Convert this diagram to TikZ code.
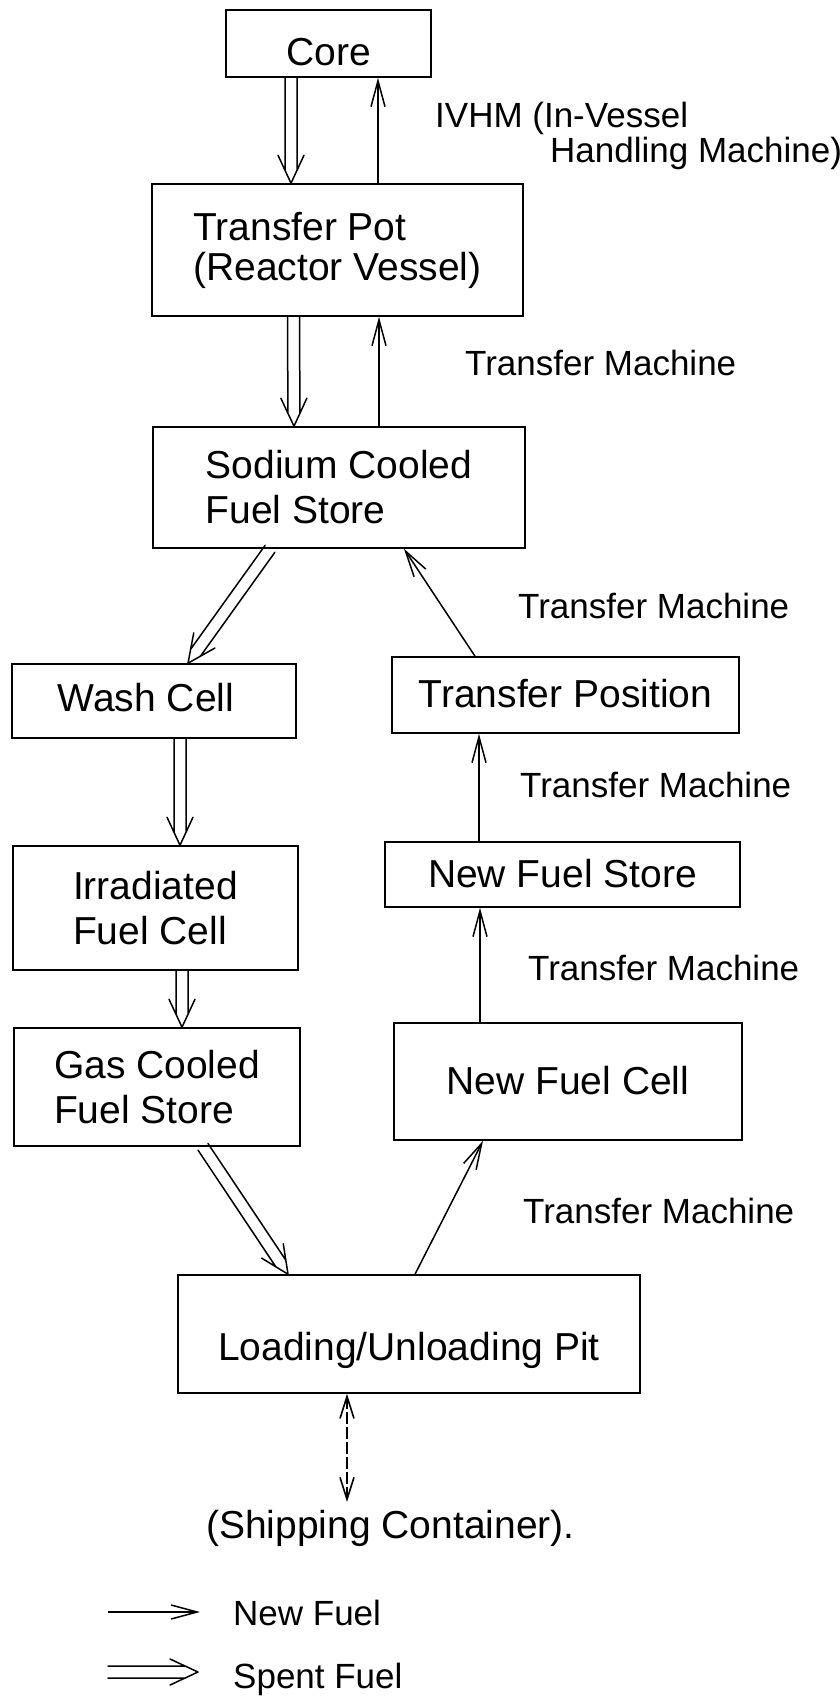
\documentclass[tikz,border=0pt]{standalone}
\usepackage{fontspec}
\setmainfont{Liberation Sans}
\usetikzlibrary{calc,arrows.meta}
\begin{document}
\begin{tikzpicture}[x=1pt,y=-1pt,
  box/.style={draw, line width=1.6pt, inner sep=0pt, align=left,
    font=\fontsize{39}{45}\selectfont},
  lab/.style={inner sep=0pt, anchor=base west, font=\fontsize{35}{40}\selectfont},
  newf/.style={line width=1.5pt, -{Straight Barb[length=26pt,width=14pt]}},
  dashboth/.style={line width=1.6pt, dash pattern=on 12pt off 3pt,
    {Straight Barb[length=22pt,width=14pt]}-{Straight Barb[length=22pt,width=14pt]}},
  spent/.style={line width=1.5pt, line join=round, line cap=round, to path={
    ($(\tikztostart)!6pt!90:(\tikztotarget)$) -- ($($(\tikztotarget)!13pt!(\tikztostart)$)!6pt!-90:(\tikztostart)$)
    ($(\tikztostart)!6pt!-90:(\tikztotarget)$) -- ($($(\tikztotarget)!13pt!(\tikztostart)$)!6pt!90:(\tikztostart)$)
    ($($(\tikztotarget)!28pt!(\tikztostart)$)!13pt!-90:(\tikztostart)$) -- (\tikztotarget)
      -- ($($(\tikztotarget)!28pt!(\tikztostart)$)!13pt!90:(\tikztostart)$)
  }},
]
\fill[white] (0,0) rectangle (839,1701);
\useasboundingbox (0,0) rectangle (839,1701);

% boxes
\node[box, minimum width=205pt, minimum height=67pt, text height=43pt, text depth=0pt] (core) at (328.5,43.5) {Core};
\node[box, minimum width=371pt, minimum height=132pt, font=\fontsize{39}{40}\selectfont] (pot) at (337.5,250) {Transfer Pot\\(Reactor Vessel)};
\node[box, minimum width=372pt, minimum height=121pt] (sodium) at (339,487.5) {Sodium Cooled\\Fuel Store};
\node[box, minimum width=284pt, minimum height=74pt, text height=20pt, text depth=0pt] (wash) at (154,701) {Wash Cell\hspace{16pt}};
\node[box, minimum width=285pt, minimum height=124pt] (irr) at (155.5,908) {Irradiated\\Fuel Cell};
\node[box, minimum width=286pt, minimum height=118pt] (gas) at (157,1087) {Gas Cooled\\Fuel Store};
\node[box, minimum width=347pt, minimum height=76pt, text height=24pt, text depth=0pt] (tpos) at (565.5,695) {Transfer Position};
\node[box, minimum width=355pt, minimum height=65pt, text height=25pt, text depth=0pt] (nfs) at (562.5,874.5) {New Fuel Store};
\node[box, minimum width=348pt, minimum height=117pt, text height=25pt, text depth=0pt] (nfc) at (568,1081.5) {New Fuel Cell};
\node[box, minimum width=462pt, minimum height=118pt, text height=52pt, text depth=0pt] (pit) at (409,1334) {Loading/Unloading Pit};

% labels
\node[lab] (ivhm) at (435,127) {IVHM (In-Vessel};
\node[lab] (ivhmb) at (550,162) {Handling Machine)};
\node[lab] (tm1) at (465,375) {Transfer Machine};
\node[lab] (tm2) at (518,618) {Transfer Machine};
\node[lab] (tm3) at (520,797) {Transfer Machine};
\node[lab] (tm4) at (528,980) {Transfer Machine};
\node[lab] (tm5) at (523,1223) {Transfer Machine};
\node[inner sep=0pt, anchor=base west, font=\fontsize{39}{45}\selectfont] (ship) at (206,1538) {(Shipping Container).};
\node[lab] (lgnew) at (233,1625) {New Fuel};
\node[lab] (lgspent) at (233,1688) {Spent Fuel};

% connector end points
\coordinate (c1s) at ([xshift=-37.5pt]core.south);
\coordinate (c1t) at ([xshift=-46.5pt]pot.north);
\coordinate (c2s) at ([xshift=40.5pt]pot.north);
\coordinate (c2t) at ([xshift=49.5pt]core.south);
\coordinate (c3s) at ([xshift=-44pt]pot.south);
\coordinate (c3t) at ([xshift=-45pt]sodium.north);
\coordinate (c4s) at ([xshift=40pt]sodium.north);
\coordinate (c4t) at ([xshift=41.5pt]pot.south);
\coordinate (c5s) at ([xshift=-69pt]sodium.south);
\coordinate (c5t) at ([xshift=34pt]wash.north);
\coordinate (c6s) at ([xshift=-90.5pt]tpos.north);
\coordinate (c6t) at ([xshift=65pt]sodium.south);
\coordinate (c7s) at ([xshift=26pt]wash.south);
\coordinate (c7t) at ([xshift=24.5pt]irr.north);
\coordinate (c8s) at ([xshift=26.5pt]irr.south);
\coordinate (c8t) at ([xshift=25pt]gas.north);
\coordinate (c9s) at ([xshift=46pt]gas.south);
\coordinate (c9t) at ([xshift=-121pt]pit.north);
\coordinate (c10s) at ([xshift=6pt]pit.north);
\coordinate (c10t) at ([xshift=-85pt]nfc.south);
\coordinate (c11s) at ([xshift=-88pt]nfc.north);
\coordinate (c11t) at ([xshift=-82.5pt]nfs.south);
\coordinate (c12s) at ([xshift=-83.5pt]nfs.north);
\coordinate (c12t) at ([xshift=-86.5pt]tpos.south);
\coordinate (c13s) at ([xshift=-62pt]pit.south);
\coordinate (c13t) at (347,1502);
\coordinate (l1s) at (108,1612);
\coordinate (l1t) at (200,1612);
\coordinate (l2s) at (108,1672);
\coordinate (l2t) at (198,1672);

% spent fuel
\draw[spent] (c1s) to (c1t);
\draw[spent] (c3s) to (c3t);
\draw[spent] (c5s) to (c5t);
\draw[spent] (c7s) to (c7t);
\draw[spent] (c8s) to (c8t);
\draw[spent] (c9s) to (c9t);
% new fuel
\draw[newf] (c2s) -- (c2t);
\draw[newf] (c4s) -- (c4t);
\draw[newf] (c6s) -- (c6t);
\draw[newf] (c10s) -- (c10t);
\draw[newf] (c11s) -- (c11t);
\draw[newf] (c12s) -- (c12t);
% shipping
\draw[dashboth] (c13s) -- (c13t);
% legend
\draw[newf] (l1s) -- (l1t);
\draw[spent] (l2s) to (l2t);
\end{tikzpicture}
\end{document}
